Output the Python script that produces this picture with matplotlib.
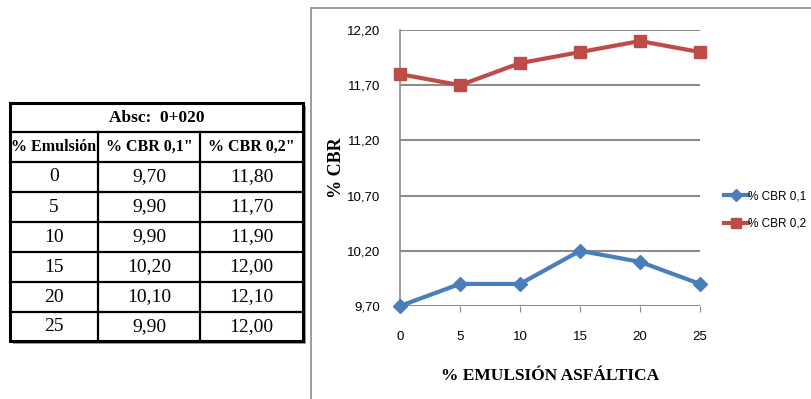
import matplotlib.pyplot as plt
from matplotlib.patches import Rectangle
from matplotlib.lines import Line2D

# Data
emulsion = [0, 5, 10, 15, 20, 25]
cbr_01 = [9.70, 9.90, 9.90, 10.20, 10.10, 9.90]
cbr_02 = [11.80, 11.70, 11.90, 12.00, 12.10, 12.00]
y_ticks = [9.70, 10.20, 10.70, 11.20, 11.70, 12.20]
table_title = "Absc:  0+020"
table_headers = ["% Emulsión", '% CBR 0,1"', '% CBR 0,2"']
series_names = ["% CBR 0,1", "% CBR 0,2"]

BLUE = "#4a7ebb"
RED = "#be4b48"
GRID = "#8c8c8c"
SERIF = "Liberation Serif"
SANS = "Liberation Sans"


def comma(v):
    return f"{v:.2f}".replace(".", ",")


W, H = 811, 399
fig = plt.figure(figsize=(W / 100, H / 100), dpi=100)
fig.patch.set_facecolor("white")


def fx(px):
    return px / W


def fy(py):
    return 1 - py / H


# chart frame
fig.patches.append(Rectangle((fx(311), fy(402)), fx(520), fy(8) - fy(402),
                             transform=fig.transFigure, fill=False,
                             edgecolor="#8a8a8a", linewidth=1.2))

# ---- line chart ----
ax = fig.add_axes([fx(400), fy(306), fx(700) - fx(400), fy(30) - fy(306)])
ax.set_xlim(0, 25)
ax.set_ylim(9.70, 12.20)
ax.set_yticks(y_ticks)
ax.set_yticklabels([comma(v) for v in y_ticks], family=SANS, fontsize=9.5)
ax.set_xticks(emulsion)
ax.set_xticklabels([str(v) for v in emulsion], family=SANS, fontsize=9.5)
ax.tick_params(axis="y", length=0, pad=14)
ax.tick_params(axis="x", length=4, color=GRID, pad=14, direction="out")
ax.grid(axis="y", color=GRID, linewidth=1.5)
ax.set_axisbelow(True)
for side in ("top", "right"):
    ax.spines[side].set_visible(False)
ax.spines["bottom"].set_visible(False)
ax.spines["left"].set_color(GRID)
ax.spines["left"].set_linewidth(1.2)

ax.plot(emulsion, cbr_01, color=BLUE, linewidth=3, marker="D", markersize=7,
        clip_on=False, zorder=3)
ax.plot(emulsion, cbr_02, color=RED, linewidth=3, marker="s", markersize=8,
        clip_on=False, zorder=3)

ax.set_ylabel("% CBR", family=SERIF, fontweight="bold", fontsize=13, labelpad=2)
ax.set_xlabel("% EMULSIÓN ASFÁLTICA", family=SERIF, fontweight="bold",
              fontsize=12.5, labelpad=18)

handles = [Line2D([], [], color=BLUE, linewidth=3, marker="D", markersize=6),
           Line2D([], [], color=RED, linewidth=3, marker="s", markersize=7)]
fig.legend(handles, series_names, loc="center left",
           bbox_to_anchor=(fx(724), fy(210)), frameon=False,
           prop={"family": SANS, "size": 8.5}, handlelength=2.0,
           handletextpad=0.05, labelspacing=1.3, borderaxespad=0, borderpad=0)

# ---- data table ----
col_x = [10, 98, 200, 303]
row_y = [103, 132, 162, 192, 222, 252, 282, 312, 341]

# shadow
fig.patches.append(Rectangle((fx(col_x[0] + 3), fy(row_y[-1] + 3)),
                             fx(col_x[-1] - col_x[0]), fy(row_y[0]) - fy(row_y[-1]),
                             transform=fig.transFigure, facecolor="#9a9a9a",
                             edgecolor="none", zorder=1))
fig.patches.append(Rectangle((fx(col_x[0]), fy(row_y[-1])),
                             fx(col_x[-1] - col_x[0]), fy(row_y[0]) - fy(row_y[-1]),
                             transform=fig.transFigure, facecolor="white",
                             edgecolor="black", linewidth=2.2, zorder=2))

for y in row_y[1:-1]:
    fig.add_artist(Line2D([fx(col_x[0]), fx(col_x[-1])], [fy(y), fy(y)],
                          color="black", linewidth=1.6, zorder=3))
for x in col_x[1:-1]:
    fig.add_artist(Line2D([fx(x), fx(x)], [fy(row_y[1]), fy(row_y[-1])],
                          color="black", linewidth=1.6, zorder=3))

fig.text(fx((col_x[0] + col_x[-1]) / 2), fy((row_y[0] + row_y[1]) / 2), table_title,
         ha="center", va="center", family=SERIF, fontweight="bold", fontsize=12.5,
         zorder=4)
for i, head in enumerate(table_headers):
    fig.text(fx((col_x[i] + col_x[i + 1]) / 2), fy((row_y[1] + row_y[2]) / 2), head,
             ha="center", va="center", family=SERIF, fontweight="bold",
             fontsize=11.5, zorder=4)

for r, (e, a, b) in enumerate(zip(emulsion, cbr_01, cbr_02)):
    yc = fy((row_y[r + 2] + row_y[r + 3]) / 2)
    for i, val in enumerate([str(e), comma(a), comma(b)]):
        fig.text(fx((col_x[i] + col_x[i + 1]) / 2), yc, val, ha="center",
                 va="center", family=SERIF, fontsize=14, zorder=4)

fig.savefig("out.png", dpi=100)
